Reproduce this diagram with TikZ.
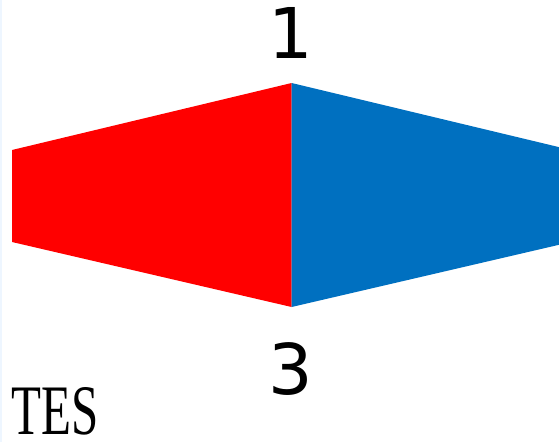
\documentclass[tikz,border=0pt]{standalone}
\usepackage{fontspec}
\newfontfamily\labelfont{DejaVu Sans}
\newfontfamily\serfont{Liberation Serif}
\definecolor{lred}{HTML}{FF0000}
\definecolor{rblue}{HTML}{0070C0}
\definecolor{edgeblue}{HTML}{EEF6FF}
\begin{document}
\begin{tikzpicture}[x=1pt,y=-1pt,
  numlabel/.style={inner sep=0pt,font=\labelfont\fontsize{70}{70}\selectfont},
  bottomtext/.style={inner sep=0pt,anchor=south west,font=\serfont\fontsize{71}{71}\selectfont}]
\useasboundingbox (0,0) rectangle (559,442);
\clip (0,0) rectangle (559,442);
\fill[white] (0,0) rectangle (559,442);
\fill[edgeblue] (0,0) rectangle (2,442);
\fill[lred] (12,150) -- (291.6,83) -- (291.6,307) -- (12,242) -- cycle;
\fill[rblue] (291.6,83) -- (571,150) -- (571,242) -- (291.6,307) -- cycle;
\node[numlabel] (top) at (290.5,32.5) {1};
\node[numlabel] (bot) at (290.5,369) {3};
\node[bottomtext] (tes) at (11,435) {\scalebox{0.69}[1]{TES}};
\end{tikzpicture}
\end{document}
